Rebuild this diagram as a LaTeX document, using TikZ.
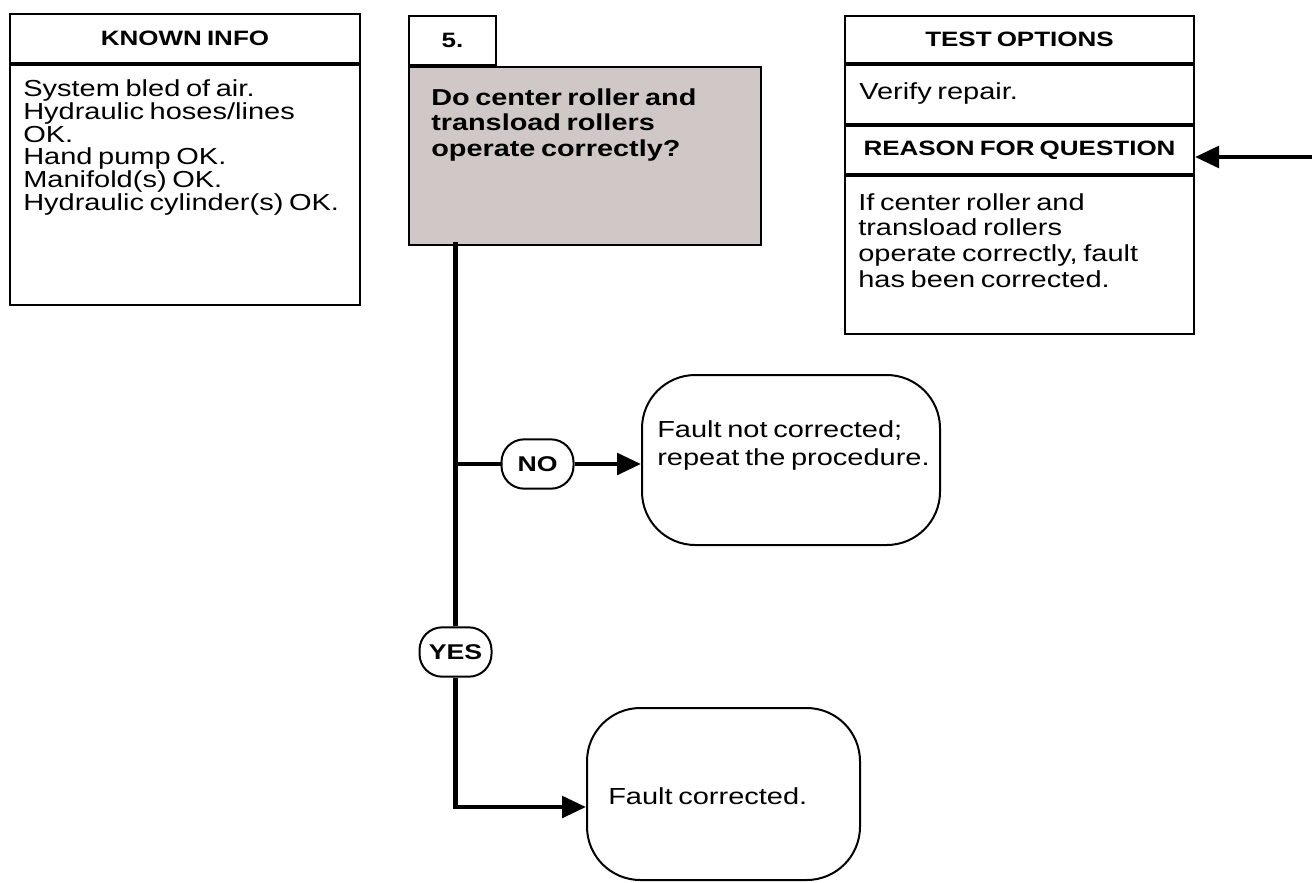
\documentclass[tikz,border=0pt]{standalone}
\usepackage{fontspec}
\setmainfont{Liberation Sans}[FakeStretch=1.25, WordSpace=0.7]
\usetikzlibrary{arrows.meta}
\definecolor{askgrey}{RGB}{207,200,198}

\begin{document}
\begin{tikzpicture}[
    x=0.75pt, y=-0.75pt,
    box/.style={draw, line width=1.5pt, inner sep=0pt, anchor=north west},
    headbox/.style={box, font=\bfseries\fontsize{15.6}{18}\selectfont},
    % base west of a multi-line node = baseline of its last line
    bodytext/.style={anchor=base west, inner sep=0pt, align=left,
        font=\fontsize{17.4}{17}\selectfont},
    asktext/.style={bodytext, font=\bfseries\fontsize{17.3}{19}\selectfont},
    endbox/.style={draw, line width=1.5pt, rounded corners=40pt, inner sep=0pt},
    pill/.style={draw, line width=1.5pt, fill=white, rounded corners=17pt,
        minimum width=54pt, minimum height=37pt, inner sep=0pt,
        font=\bfseries\fontsize{16}{18}\selectfont},
    flow/.style={line width=3.4pt},
    arrow/.style={flow, -{Triangle[length=18pt, width=16pt]}}
]
\useasboundingbox (0,0) rectangle (1312,882);

% known info
\node[headbox, minimum width=262.5pt, minimum height=36.75pt] (knownhd) at (9,13) {KNOWN INFO};
\node[box, minimum width=262.5pt, minimum height=180pt] (knownbd) at (knownhd.south west) {};
\node[bodytext] (knowntxt) at (23,210) {System bled of air.\\Hydraulic hoses/lines\\OK.\\Hand pump OK.\\Manifold(s) OK.\\Hydraulic cylinder(s) OK.};

% question 5
\node[headbox, minimum width=65.25pt, minimum height=36.75pt] (stepno) at (408,15) {5.};
\node[box, fill=askgrey, minimum width=264pt, minimum height=133.5pt] (ask) at (stepno.south west) {};
\node[asktext] (asktxt) at (431,156) {Do center roller and\\transload rollers\\operate correctly?};

% test options / reason
\node[headbox, minimum width=261.75pt, minimum height=35.25pt] (testhd) at (844,15) {TEST OPTIONS};
\node[box, minimum width=261.75pt, minimum height=44.25pt] (testbd) at (testhd.south west) {};
\node[headbox, minimum width=261.75pt, minimum height=36pt] (reasonhd) at (testbd.south west) {REASON FOR QUESTION};
\node[box, minimum width=261.75pt, minimum height=118.5pt] (reasonbd) at (reasonhd.south west) {};
\node[bodytext] (testtxt) at (859,99) {Verify repair.};
\node[bodytext, font=\fontsize{17.4}{19.25}\selectfont] (reasontxt) at (858,287) {If center roller and\\transload rollers\\operate correctly, fault\\has been corrected.};

% outcomes
\node[endbox, minimum width=223.5pt, minimum height=127.5pt] (notfixed) at (791,460) {};
\node[bodytext, font=\fontsize{17.4}{21}\selectfont] (notfixedtxt) at (657,465) {Fault not corrected;\\repeat the procedure.};
\node[endbox, minimum width=204.75pt, minimum height=129pt] (fixed) at (723.5,794) {};
\node[bodytext] (fixedtxt) at (608,804) {Fault corrected.};

\node[pill] (no) at (537.5,464) {NO};
\node[pill] (yes) at (455.5,652) {YES};

\coordinate (trunktop) at (455.5,242);
\coordinate (nojoin) at (455.5,464);
\coordinate (yesjoin) at (455.5,807);
\coordinate (inlet) at (1312,157);

\draw[flow] (trunktop) -- (yes);
\draw[flow] (nojoin) -- (no);
\draw[arrow] (no) -- (no -| notfixed.west);
\draw[arrow] (yes) -- (yesjoin) -- (yesjoin -| fixed.west);
\draw[arrow] (inlet) -- (inlet -| reasonbd.east);

\end{tikzpicture}
\end{document}
